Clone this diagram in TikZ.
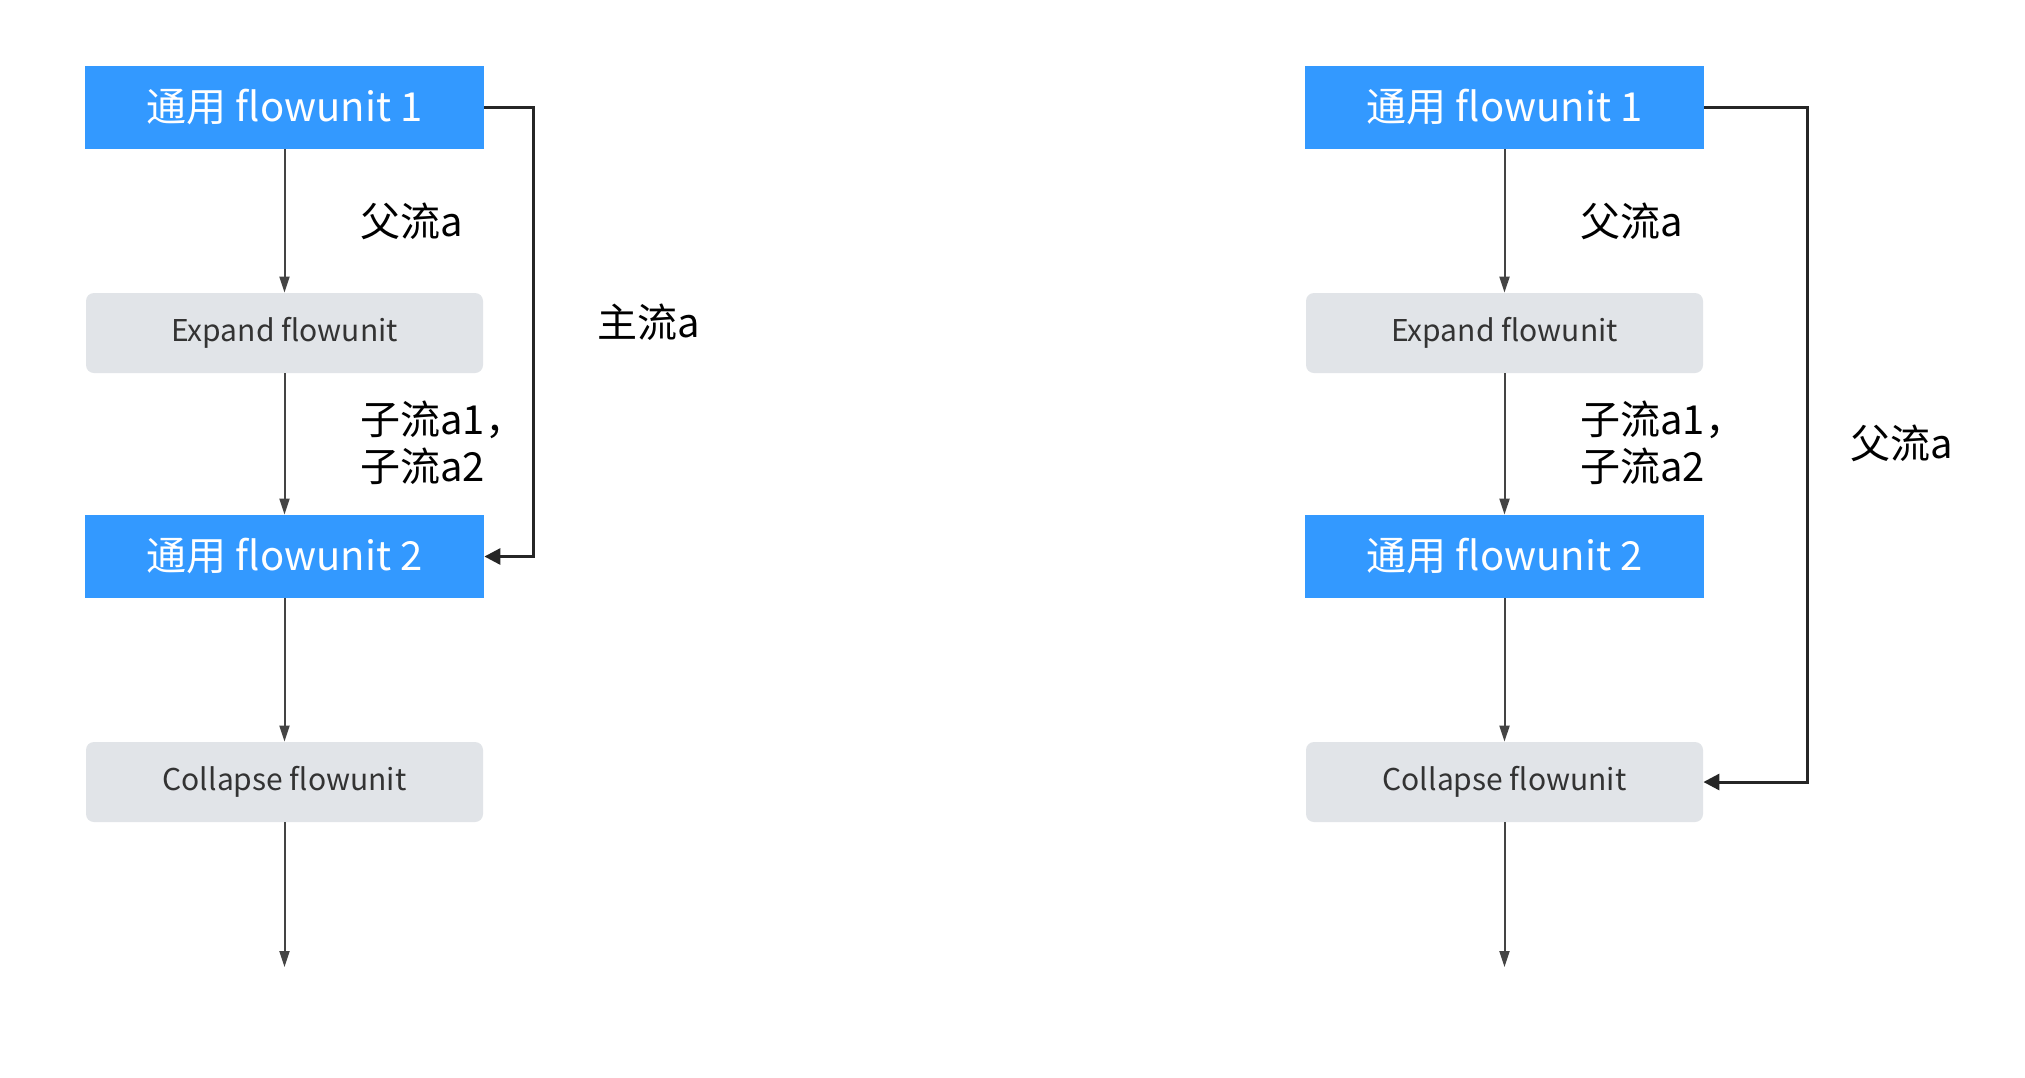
\documentclass[tikz,border=0pt]{standalone}
\usepackage{fontspec}
\setmainfont{Noto Sans CJK SC}
\usetikzlibrary{arrows.meta}
\definecolor{unitblue}{HTML}{3399FF}
\definecolor{unitgray}{HTML}{E1E4E8}
\definecolor{textgray}{HTML}{333333}
\definecolor{linegray}{HTML}{444444}
\tikzset{
	blueunit/.style={fill=unitblue, text=white, minimum width=199.5pt, minimum height=41.5pt, inner sep=0pt, font=\fontsize{20pt}{24pt}\selectfont},
	grayunit/.style={fill=unitgray, rounded corners=4pt, text=textgray, minimum width=198.5pt, minimum height=40pt, inner sep=0pt, font=\fontsize{15pt}{18pt}\selectfont},
	flowlabel/.style={anchor=west, inner sep=0pt, align=left, font=\fontsize{20pt}{23.5pt}\selectfont},
	arr/.style={draw=linegray, line width=1pt, -{Triangle[length=8pt,width=5pt]}},
	back/.style={draw=black!85, line width=1.5pt, -{Triangle[length=8pt,width=8pt]}},
}
\begin{document}
\begin{tikzpicture}[x=0.5pt,y=-0.5pt]
	\useasboundingbox[fill=white] (0,0) rectangle (2025,1077);%Rahmen
	%linke Kette
	\node[blueunit] (f1L) at (284.5,107.5) {通用 flowunit 1};
	\node[grayunit] (exL) at (284.5,333) {Expand flowunit};
	\node[blueunit] (f2L) at (284.5,556.5) {通用 flowunit 2};
	\node[grayunit] (coL) at (284.5,782) {Collapse flowunit};
	\coordinate (endL) at (284.5,967);
	\draw[arr] (f1L) -- (exL);
	\draw[arr] (exL) -- (f2L);
	\draw[arr] (f2L) -- (coL);
	\draw[arr] (coL) -- (endL);
	\draw[back] (f1L.east) -- ++(49,0) |- (f2L.east);%Rueckfuehrung links
	\node[flowlabel] (pL) at (360,221) {父流a};
	\node[flowlabel] (sL) at (360,443) {子流a1，\\子流a2};
	\node[flowlabel] (mL) at (597,322) {主流a};
	%rechte Kette
	\node[blueunit] (f1R) at (1504.5,107.5) {通用 flowunit 1};
	\node[grayunit] (exR) at (1504.5,333) {Expand flowunit};
	\node[blueunit] (f2R) at (1504.5,556.5) {通用 flowunit 2};
	\node[grayunit] (coR) at (1504.5,782) {Collapse flowunit};
	\coordinate (endR) at (1504.5,967);
	\draw[arr] (f1R) -- (exR);
	\draw[arr] (exR) -- (f2R);
	\draw[arr] (f2R) -- (coR);
	\draw[arr] (coR) -- (endR);
	\draw[back] (f1R.east) -- ++(103,0) |- (coR.east);%Rueckfuehrung rechts
	\node[flowlabel] (pR) at (1580,221) {父流a};
	\node[flowlabel] (sR) at (1580,443) {子流a1，\\子流a2};
	\node[flowlabel] (mR) at (1850,443) {父流a};
\end{tikzpicture}
\end{document}
